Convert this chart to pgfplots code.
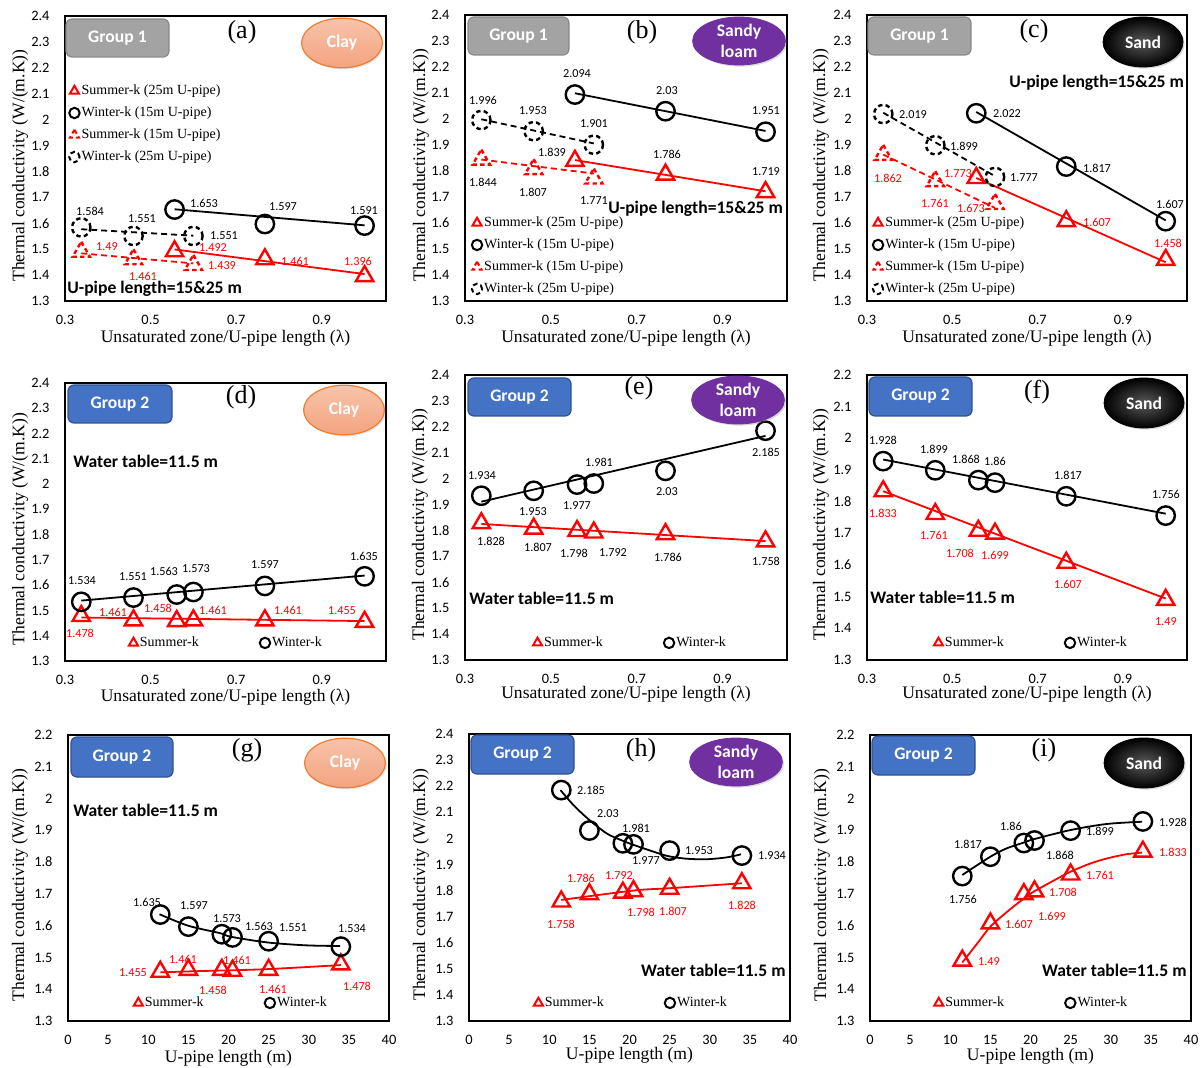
\documentclass[border=0pt]{standalone}
\usepackage{pgfplots}
\pgfplotsset{compat=1.18}
\usepackage{fontspec}
\setmainfont{Liberation Serif}
\newfontfamily\calibri{Carlito}
\usetikzlibrary{shadows}
\definecolor{g1fill}{RGB}{163,163,163}
\definecolor{g1draw}{RGB}{137,137,137}
\definecolor{g2fill}{RGB}{68,114,196}
\definecolor{g2draw}{RGB}{47,82,143}
\definecolor{claytop}{RGB}{248,196,170}
\definecolor{claybot}{RGB}{243,163,128}
\definecolor{claydraw}{RGB}{237,125,49}
\definecolor{sandyl}{RGB}{112,48,160}
\definecolor{kred}{RGB}{255,0,0}
\newcommand\tickfont{\calibri\fontsize{7.2}{8}\selectfont}
\newcommand\labfont{\fontsize{8.8}{10}\selectfont}
\newcommand\legfont{\fontsize{7}{8}\selectfont}
\newcommand\datfont{\calibri\fontsize{6.1}{7}\selectfont}
\newcommand\bfont{\calibri\bfseries\fontsize{8.8}{10.3}\selectfont}
\newcommand\pfont{\fontsize{13}{14}\selectfont}
\pgfplotsset{
 myleg/.style={legend image code/.code={\draw[##1,mark size=2.6pt,line width=1pt] plot coordinates {(0pt,0pt)};}},
 panel/.style={scale only axis, anchor=north west, axis line style={line width=0.6pt},
   major tick length=0pt, ticklabel style={font=\tickfont},
   yticklabel style={anchor=east,xshift=-4.2pt}, xticklabel style={anchor=center,yshift=-9.5pt},
   ylabel={Thermal conductivity (W/(m.K))}, ylabel style={anchor=center},
   xlabel style={anchor=center},
   label style={font=\labfont}, /pgf/number format/assume math mode=true, clip=false,
   legend style={draw=none, fill=none, inner sep=0pt, font=\legfont,
     nodes={inner sep=1pt, text height=5pt, text depth=1.5pt}, row sep=2.5pt},
   legend cell align=left, myleg},
 lam/.style={xmin=0.3, xmax=1.05, xtick={0.3,0.5,0.7,0.9}, xlabel={Unsaturated zone/U-pipe length (λ)}},
 len/.style={xmin=0, xmax=40, xtick={0,5,10,15,20,25,30,35,40}, xlabel={U-pipe length (m)}},
 y24/.style={ymin=1.3,ymax=2.4,ytick={1.3,1.4,1.5,1.6,1.7,1.8,1.9,2,2.1,2.2,2.3,2.4}},
 y22/.style={ymin=1.3,ymax=2.2,ytick={1.3,1.4,1.5,1.6,1.7,1.8,1.9,2,2.1,2.2}},
 sumS/.style={only marks, mark=triangle, kred, mark size=5pt, line width=1.2pt},
 sumD/.style={sumS, dash pattern=on 2.2pt off 1.6pt},
 winS/.style={only marks, mark=o, black, mark size=4.6pt, line width=1.2pt},
 winD/.style={winS, dash pattern=on 2.2pt off 1.6pt},
 trR/.style={kred, line width=0.9pt, no marks, forget plot},
 trK/.style={black, line width=0.9pt, no marks, forget plot},
 trRD/.style={trR, dash pattern=on 3pt off 2pt},
 trKD/.style={trK, dash pattern=on 3pt off 2pt},
 two/.style={legend columns=2, legend style={anchor=west, /tikz/every even column/.append style={column sep=29.5pt}}},
 four/.style={legend style={anchor=north west}},
}
\newcommand\grpbox[5]{%
  \draw[rounded corners=3pt, line width=0.6pt, draw=g#5draw, fill=g#5fill] (#1,#2) rectangle (#3,#4);
  \node[text=white, font=\bfont] at ({(#1+#3)/2},{(#2+#4)/2}) {Group #5};}
\newcommand\clay[2]{%
  \draw[line width=0.6pt, draw=claydraw, top color=claytop, bottom color=claybot,
    drop shadow={opacity=0.2,shadow xshift=0.8pt,shadow yshift=-0.8pt}] (#1,#2) ellipse [x radius=20.2pt, y radius=12.4pt];
  \node[text=white, font=\bfont] at (#1,#2) {Clay};}
\newcommand\sandyloam[2]{%
  \draw[draw=sandyl, fill=sandyl,
    drop shadow={opacity=0.3,shadow xshift=0.8pt,shadow yshift=-0.8pt}] (#1,#2) ellipse [x radius=23.2pt, y radius=12pt];
  \node[text=white, font=\bfont, align=center, inner sep=0pt] at (#1,#2) {Sandy\\loam};}
\newcommand\sand[2]{%
  \draw[draw=black, inner color=black!65, outer color=black,
    drop shadow={opacity=0.3,shadow xshift=0.8pt,shadow yshift=-0.8pt}] (#1,#2) ellipse [x radius=20pt, y radius=12.5pt];
  \node[text=white, font=\bfont] at (#1,#2) {Sand};}
\begin{document}
\begin{tikzpicture}
\useasboundingbox (0,0) rectangle (601.5pt,-534pt);
% ---------------- (a)
\begin{axis}[panel, lam, y24, four, at={(32.5pt,-8pt)}, width=160.5pt, height=142.5pt,
  ylabel style={at={(axis description cs:-0.140,0.475)}}, xlabel style={at={(axis description cs:0.5,-0.13)}},
  legend style={at={(0.012,0.768)}}]
\addplot[sumS] coordinates {(0.556,1.492) (0.767,1.461) (1.0,1.396)};
\addlegendentry{Summer-k (25m U-pipe)}
\addplot[winS] coordinates {(0.556,1.653) (0.767,1.597) (1.0,1.591)};
\addlegendentry{Winter-k (15m U-pipe)}
\addplot[sumD] coordinates {(0.338,1.49) (0.46,1.461) (0.6,1.439)};
\addlegendentry{Summer-k (15m U-pipe)}
\addplot[winD] coordinates {(0.338,1.584) (0.46,1.551) (0.6,1.551)};
\addlegendentry{Winter-k (25m U-pipe)}
\addplot[trK] coordinates {(0.556,1.654) (1.0,1.592)};
\addplot[trKD] coordinates {(0.338,1.577) (0.6,1.552)};
\addplot[trR] coordinates {(0.556,1.499) (1.0,1.404)};
\addplot[trRD] coordinates {(0.338,1.484) (0.6,1.445)};
\end{axis}
% ---------------- (b)
\begin{axis}[panel, lam, y24, four, at={(232.5pt,-7.5pt)}, width=161pt, height=143pt,
  ylabel style={at={(axis description cs:-0.137,0.475)}}, xlabel style={at={(axis description cs:0.5,-0.13)}},
  legend style={at={(0.02,0.304)}}]
\addplot[sumS] coordinates {(0.556,1.839) (0.767,1.786) (1.0,1.719)};
\addlegendentry{Summer-k (25m U-pipe)}
\addplot[winS] coordinates {(0.556,2.094) (0.767,2.03) (1.0,1.951)};
\addlegendentry{Winter-k (15m U-pipe)}
\addplot[sumD] coordinates {(0.338,1.844) (0.46,1.807) (0.6,1.771)};
\addlegendentry{Summer-k (15m U-pipe)}
\addplot[winD] coordinates {(0.338,1.996) (0.46,1.953) (0.6,1.901)};
\addlegendentry{Winter-k (25m U-pipe)}
\addplot[trK] coordinates {(0.556,2.099) (1.0,1.954)};
\addplot[trKD] coordinates {(0.338,1.999) (0.6,1.906)};
\addplot[trR] coordinates {(0.556,1.842) (1.0,1.722)};
\addplot[trRD] coordinates {(0.338,1.844) (0.6,1.79)};
\end{axis}
% ---------------- (c)
\begin{axis}[panel, lam, y24, four, at={(433.5pt,-7.5pt)}, width=160pt, height=143pt,
  ylabel style={at={(axis description cs:-0.144,0.475)}}, xlabel style={at={(axis description cs:0.5,-0.13)}},
  legend style={at={(0.017,0.304)}}]
\addplot[sumS] coordinates {(0.556,1.773) (0.767,1.607) (1.0,1.458)};
\addlegendentry{Summer-k (25m U-pipe)}
\addplot[winS] coordinates {(0.556,2.022) (0.767,1.817) (1.0,1.607)};
\addlegendentry{Winter-k (15m U-pipe)}
\addplot[sumD] coordinates {(0.338,1.862) (0.46,1.761) (0.6,1.673)};
\addlegendentry{Summer-k (15m U-pipe)}
\addplot[winD] coordinates {(0.338,2.019) (0.46,1.899) (0.6,1.777)};
\addlegendentry{Winter-k (25m U-pipe)}
\addplot[trK] coordinates {(0.556,2.027) (1.0,1.610)};
\addplot[trKD] coordinates {(0.338,2.024) (0.6,1.780)};
\addplot[trR] coordinates {(0.556,1.773) (1.0,1.449)};
\addplot[trRD] coordinates {(0.338,1.863) (0.6,1.658)};
\end{axis}
% ---------------- (d)
\begin{axis}[panel, lam, y24, two, at={(32.5pt,-191.5pt)}, width=160.5pt, height=139pt,
  ylabel style={at={(axis description cs:-0.140,0.475)}}, xlabel style={at={(axis description cs:0.5,-0.13)}},
  legend style={at={(0.198,0.065)}}]
\addplot[sumS] coordinates {(0.338,1.478) (0.46,1.461) (0.561,1.458) (0.6,1.461) (0.767,1.461) (1.0,1.455)};
\addlegendentry{Summer-k}
\addplot[winS] coordinates {(0.338,1.534) (0.46,1.551) (0.561,1.563) (0.6,1.573) (0.767,1.597) (1.0,1.635)};
\addlegendentry{Winter-k}
\addplot[trK] coordinates {(0.338,1.539) (1.0,1.638)};
\addplot[trR] coordinates {(0.338,1.472) (1.0,1.458)};
\end{axis}
% ---------------- (e)
\begin{axis}[panel, lam, y24, two, at={(232.5pt,-187.5pt)}, width=161pt, height=142.5pt,
  ylabel style={at={(axis description cs:-0.140,0.475)}}, xlabel style={at={(axis description cs:0.5,-0.12)}},
  legend style={at={(0.21,0.06)}}]
\addplot[sumS] coordinates {(0.338,1.828) (0.46,1.807) (0.561,1.798) (0.6,1.792) (0.767,1.786) (1.0,1.758)};
\addlegendentry{Summer-k}
\addplot[winS] coordinates {(0.338,1.934) (0.46,1.953) (0.561,1.977) (0.6,1.981) (0.767,2.03) (1.0,2.185)};
\addlegendentry{Winter-k}
\addplot[trK] coordinates {(0.338,1.911) (1.0,2.165)};
\addplot[trR] coordinates {(0.338,1.825) (1.0,1.759)};
\end{axis}
% ---------------- (f)
\begin{axis}[panel, lam, y22, two, at={(433.5pt,-187.5pt)}, width=160pt, height=142.5pt,
  ylabel style={at={(axis description cs:-0.144,0.475)}}, xlabel style={at={(axis description cs:0.5,-0.12)}},
  legend style={at={(0.208,0.06)}}]
\addplot[sumS] coordinates {(0.338,1.833) (0.46,1.761) (0.561,1.708) (0.6,1.699) (0.767,1.607) (1.0,1.49)};
\addlegendentry{Summer-k}
\addplot[winS] coordinates {(0.338,1.928) (0.46,1.899) (0.561,1.868) (0.6,1.86) (0.767,1.817) (1.0,1.756)};
\addlegendentry{Winter-k}
\addplot[trK] coordinates {(0.338,1.933) (1.0,1.762)};
\addplot[trR] coordinates {(0.338,1.833) (1.0,1.494)};
\end{axis}
% ---------------- (g)
\begin{axis}[panel, len, y22, two, at={(34pt,-367.5pt)}, width=160.5pt, height=143pt,
  ylabel style={at={(axis description cs:-0.150,0.475)}}, xlabel style={at={(axis description cs:0.5,-0.13)}},
  legend style={at={(0.204,0.063)}}]
\addplot[sumS] coordinates {(11.5,1.455) (15,1.461) (19.17,1.461) (20.5,1.458) (25,1.461) (34,1.478)};
\addlegendentry{Summer-k}
\addplot[winS] coordinates {(11.5,1.635) (15,1.597) (19.17,1.573) (20.5,1.563) (25,1.551) (34,1.534)};
\addlegendentry{Winter-k}
\addplot[trK, smooth] coordinates {(11.4,1.636) (14.95,1.600) (19,1.576) (20.3,1.565) (24.9,1.547) (29.7,1.538) (33.9,1.536)};
\addplot[trR, smooth] coordinates {(11.5,1.453) (16.4,1.457) (24.7,1.463) (34,1.476)};
\end{axis}
% ---------------- (h)
\begin{axis}[panel, len, y24, two, at={(234.5pt,-367pt)}, width=160.5pt, height=143.5pt,
  ylabel style={at={(axis description cs:-0.150,0.475)}}, xlabel style={at={(axis description cs:0.5,-0.118)}},
  legend style={at={(0.201,0.063)}}]
\addplot[sumS] coordinates {(11.5,1.758) (15,1.786) (19.17,1.792) (20.5,1.798) (25,1.807) (34,1.828)};
\addlegendentry{Summer-k}
\addplot[winS] coordinates {(11.5,2.185) (15,2.03) (19.17,1.981) (20.5,1.977) (25,1.953) (34,1.934)};
\addlegendentry{Winter-k}
\addplot[trK, smooth] coordinates {(11.4,2.185) (13.0,2.128) (14.9,2.073) (17.15,2.019) (18.9,1.994) (20.5,1.975) (23,1.949) (24.8,1.932) (27.1,1.922) (29.6,1.920) (32.1,1.927) (33.9,1.939)};
\addplot[trR, smooth] coordinates {(11.5,1.764) (20.5,1.800) (25,1.809) (34,1.828)};
\end{axis}
% ---------------- (i)
\begin{axis}[panel, len, y22, two, at={(435pt,-367.5pt)}, width=160.5pt, height=143pt,
  ylabel style={at={(axis description cs:-0.150,0.475)}}, xlabel style={at={(axis description cs:0.5,-0.122)}},
  legend style={at={(0.199,0.063)}}]
\addplot[sumS] coordinates {(11.5,1.49) (15,1.607) (19.17,1.699) (20.5,1.708) (25,1.761) (34,1.833)};
\addlegendentry{Summer-k}
\addplot[winS] coordinates {(11.5,1.756) (15,1.817) (19.17,1.86) (20.5,1.868) (25,1.899) (34,1.928)};
\addlegendentry{Winter-k}
\addplot[trK, smooth] coordinates {(11.5,1.7595) (15,1.817) (17,1.843) (19.1,1.861) (20.4,1.872) (25,1.901) (29.5,1.92) (33.9,1.927)};
\addplot[trR, smooth] coordinates {(11.5,1.484) (13.3,1.542) (15,1.597) (17.1,1.644) (19.2,1.686) (20.4,1.707) (22.9,1.742) (25,1.770) (27.5,1.796) (29.6,1.812) (31.9,1.8245) (33.9,1.83)};
\end{axis}
% ---------------- decorations and value labels (pixel grid)
\begin{scope}[x=0.5pt,y=-0.5pt]
\grpbox{66}{19}{169}{57}{1}  \grpbox{468}{17}{569}{55}{1}  \grpbox{868}{17}{971}{55}{1}
\grpbox{68}{385}{172}{423}{2} \grpbox{468}{378}{571}{416}{2} \grpbox{869}{377}{972}{416}{2}
\grpbox{71}{737}{173}{777}{2} \grpbox{471}{735}{574}{774}{2} \grpbox{872}{736}{975}{775}{2}
\clay{342}{43} \clay{344}{410} \clay{345}{763}
\sandyloam{739}{41} \sandyloam{738}{400} \sandyloam{736}{762}
\sand{1143}{42} \sand{1144}{403} \sand{1144}{763}
\tikzset{pl/.style={font=\pfont, inner sep=0pt}, bl/.style={font=\bfont, inner sep=0pt},
  dk/.style={font=\datfont, inner sep=0pt, text=black}, dr/.style={font=\datfont, inner sep=0pt, text=kred}}
\node[pl] at (242,32) {(a)}; \node[pl] at (642,32) {(b)}; \node[pl] at (1034,31) {(c)};
\node[pl] at (241,397) {(d)}; \node[pl] at (639,388) {(e)}; \node[pl] at (1037,392) {(f)};
\node[pl] at (247,750) {(g)}; \node[pl] at (641,750) {(h)}; \node[pl] at (1044,750) {(i)};
\node[bl, anchor=west] at (67,289) {U-pipe length=15\&25 m};
\node[bl, anchor=west] at (608,209) {U-pipe length=15\&25 m};
\node[bl, anchor=west] at (1009,83) {U-pipe length=15\&25 m};
\node[bl, anchor=west] at (73,461) {Water table=11.5 m};
\node[bl, anchor=west] at (469,598) {Water table=11.5 m};
\node[bl, anchor=west] at (870,597) {Water table=11.5 m};
\node[bl, anchor=west] at (73,810) {Water table=11.5 m};
\node[bl, anchor=east] at (786,970) {Water table=11.5 m};
\node[bl, anchor=east] at (1187,970) {Water table=11.5 m};
% (a)
\node[dk] at (90,211) {1.584}; \node[dk] at (142,219) {1.551}; \node[dk] at (224,236) {1.551};
\node[dk] at (204,203) {1.653}; \node[dk] at (283,207) {1.597}; \node[dk] at (364,211) {1.591};
\node[dr] at (107,247) {1.49}; \node[dr] at (143,276) {1.461}; \node[dr] at (213,247.5) {1.492};
\node[dr] at (222,266) {1.439}; \node[dr] at (295,261) {1.461}; \node[dr] at (358,261) {1.396};
% (b)
\node[dk] at (577,74) {2.094}; \node[dk] at (667,91) {2.03}; \node[dk] at (766,111) {1.951};
\node[dk] at (483,100) {1.996}; \node[dk] at (533,111) {1.953}; \node[dk] at (594,124) {1.901};
\node[dk] at (552,152) {1.839}; \node[dk] at (667,154) {1.786}; \node[dk] at (766,172) {1.719};
\node[dk] at (483,182) {1.844}; \node[dk] at (533,192) {1.807}; \node[dk] at (594,201) {1.771};
% (c)
\node[dk] at (913,115) {2.019}; \node[dk] at (1007,114) {2.022}; \node[dk] at (964,146) {1.899};
\node[dk] at (1097,168) {1.817}; \node[dk] at (1024,178) {1.777}; \node[dk] at (1170,204) {1.607};
\node[dr] at (888,178) {1.862}; \node[dr] at (958,174) {1.773}; \node[dr] at (935,203) {1.761};
\node[dr] at (971,208) {1.673}; \node[dr] at (1097,222) {1.607}; \node[dr] at (1168,243) {1.458};
% (d)
\node[dk] at (82,581) {1.534}; \node[dk] at (133,577) {1.551}; \node[dk] at (164,571) {1.563};
\node[dk] at (196,569) {1.573}; \node[dk] at (265,565) {1.597}; \node[dk] at (364,556) {1.635};
\node[dr] at (80,633) {1.478}; \node[dr] at (113,612) {1.461}; \node[dr] at (158,608) {1.458};
\node[dr] at (213,610) {1.461}; \node[dr] at (288,610) {1.461}; \node[dr] at (342,611) {1.455};
% (e)
\node[dk] at (482,476) {1.934}; \node[dk] at (533,512) {1.953}; \node[dk] at (577,506) {1.977};
\node[dk] at (599,462) {1.981}; \node[dk] at (667,492) {2.03}; \node[dk] at (766,452) {2.185};
\node[dk] at (491,541) {1.828}; \node[dk] at (538,547) {1.807}; \node[dk] at (574,553) {1.798};
\node[dk] at (613,553) {1.792}; \node[dk] at (668,557) {1.786}; \node[dk] at (766,561) {1.758};
% (f)
\node[dk] at (883,440) {1.928}; \node[dk] at (934,449) {1.899}; \node[dk] at (966,459) {1.868};
\node[dk] at (995,461) {1.86}; \node[dk] at (1068,475) {1.817}; \node[dk] at (1166,494) {1.756};
\node[dr] at (883,513) {1.833}; \node[dr] at (934,535) {1.761}; \node[dr] at (960,553) {1.708};
\node[dr] at (995,555) {1.699}; \node[dr] at (1068,584) {1.607}; \node[dr] at (1166,622) {1.49};
% (g)
\node[dk] at (147,902) {1.635}; \node[dk] at (194,906) {1.597}; \node[dk] at (227,919) {1.573};
\node[dk] at (259,926) {1.563}; \node[dk] at (293,928) {1.551}; \node[dk] at (352,929) {1.534};
\node[dr] at (133,973) {1.455}; \node[dr] at (183,959) {1.461}; \node[dr] at (213,990) {1.458};
\node[dr] at (237,960) {1.461}; \node[dr] at (273,989) {1.461}; \node[dr] at (357,986) {1.478};
% (h)
\node[dk] at (591,790) {2.185}; \node[dk] at (608,814) {2.03}; \node[dk] at (636,828) {1.981};
\node[dk] at (646,861) {1.977}; \node[dk] at (699,851) {1.953}; \node[dk] at (772,856) {1.934};
\node[dr] at (581,878) {1.786}; \node[dr] at (619,876) {1.792}; \node[dr] at (561,924) {1.758};
\node[dr] at (641,912) {1.798}; \node[dr] at (673,911) {1.807}; \node[dr] at (742,905) {1.828};
% (i)
\node[dk] at (963,899) {1.756}; \node[dk] at (968,844) {1.817}; \node[dk] at (1011,826) {1.86};
\node[dk] at (1060,855) {1.868}; \node[dk] at (1100,831) {1.899}; \node[dk] at (1173,822) {1.928};
\node[dr] at (989,962) {1.49}; \node[dr] at (1019,924) {1.607}; \node[dr] at (1052,916) {1.699};
\node[dr] at (1063,892) {1.708}; \node[dr] at (1100,875) {1.761}; \node[dr] at (1173,852) {1.833};
\end{scope}
\end{tikzpicture}
\end{document}
